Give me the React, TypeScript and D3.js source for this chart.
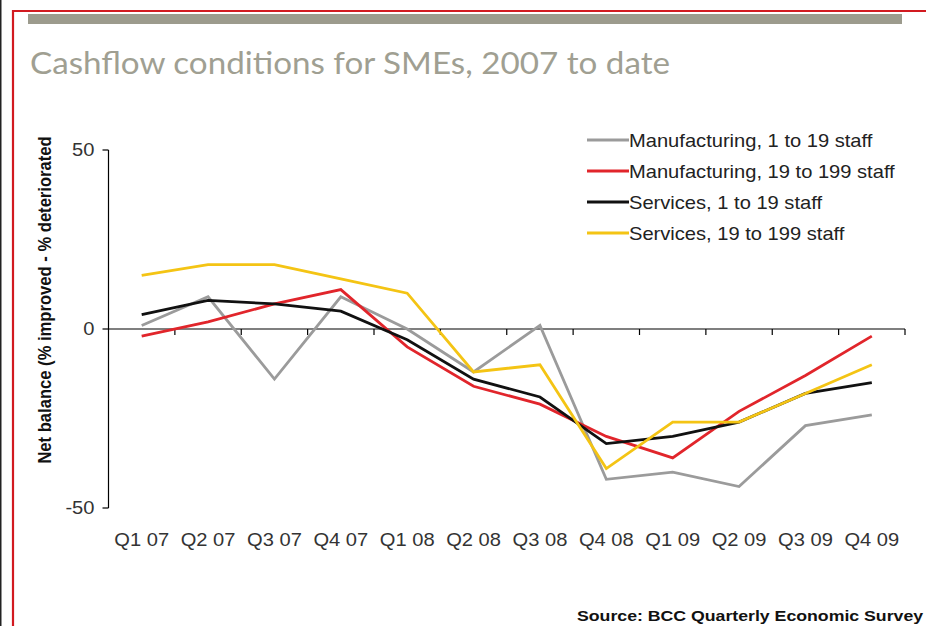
import * as d3 from 'd3'

const quarters = ['Q1 07', 'Q2 07', 'Q3 07', 'Q4 07', 'Q1 08', 'Q2 08', 'Q3 08', 'Q4 08', 'Q1 09', 'Q2 09', 'Q3 09', 'Q4 09']
const manufSmall = [1, 9, -14, 9, 0, -12, 1, -42, -40, -44, -27, -24]
const manufLarge = [-2, 2, 7, 11, -5, -16, -21, -30, -36, -23, -13, -2]
const servSmall = [4, 8, 7, 5, -3, -14, -19, -32, -30, -26, -18, -15]
const servLarge = [15, 18, 18, 14, 10, -12, -10, -39, -26, -26, -18, -10]
const yTicks = [50, 0, -50]

const series = [
  { name: 'Manufacturing, 1 to 19 staff', values: manufSmall, color: '#9b9b9b' },
  { name: 'Manufacturing, 19 to 199 staff', values: manufLarge, color: '#e1252b' },
  { name: 'Services, 1 to 19 staff', values: servSmall, color: '#111111' },
  { name: 'Services, 19 to 199 staff', values: servLarge, color: '#f4c414' },
]

const W = 926
const H = 626
const SX = 1.15 // the source image is stretched a bit horizontally
const plot = { left: 108.5, right: 905, top: 150, bottom: 508 }
const font = '"Liberation Sans", Arial, sans-serif'

export default function App() {
  const x = d3.scaleBand<string>().domain(quarters).range([plot.left, plot.right])
  const y = d3.scaleLinear().domain([-50, 50]).range([plot.bottom, plot.top])
  const cx = (q: string) => (x(q) ?? 0) + x.bandwidth() / 2
  const y0 = y(0)

  const line = d3
    .line<number>()
    .x((_, i) => cx(quarters[i]))
    .y((d) => y(d))

  const boundaries = quarters.map((q) => (x(q) ?? 0) + x.bandwidth())
  const legendX = 587
  const legendY = 140
  const legendStep = 31

  return (
    <svg width={W} height={H} style={{ position: 'absolute', left: 0, top: 0, background: '#fff' }}>
      {/* page frame */}
      <line x1={0.75} y1={0} x2={0.75} y2={H} stroke="#222" strokeWidth={1.5} />
      <path d={`M13,${H} V11 H${W}`} fill="none" stroke="#d21a20" strokeWidth={2.2} />
      <rect x={28} y={14} width={874} height={10} fill="#9c9b8d" />

      <text x={30} y={73.5} fontFamily='Lato, "Open Sans", sans-serif' fontSize={30} fill="#a09f92"
        textLength={640} lengthAdjust="spacingAndGlyphs">
        Cashflow conditions for SMEs, 2007 to date
      </text>

      {/* y axis */}
      <line x1={plot.left} x2={plot.left} y1={y(50)} y2={y(-50)} stroke="#000" strokeWidth={1.2} />
      {yTicks.map((t) => (
        <g key={t}>
          <line x1={plot.left - 6} x2={plot.left} y1={y(t)} y2={y(t)} stroke="#000" strokeWidth={1.2} />
          <text transform={`translate(${plot.left - 14},${y(t) + 6.3}) scale(${SX},1)`} textAnchor="end"
            fontFamily={font} fontSize={17.5} fill="#333">
            {t}
          </text>
        </g>
      ))}

      {/* x axis at zero */}
      <line x1={plot.left} x2={plot.right} y1={y0} y2={y0} stroke="#000" strokeWidth={1.2} />
      {boundaries.map((b, i) => (
        <line key={i} x1={b} x2={b} y1={y0} y2={y0 + 6} stroke="#000" strokeWidth={1.2} />
      ))}
      {quarters.map((q) => (
        <text key={q} transform={`translate(${cx(q)},${546}) scale(${SX},1)`} textAnchor="middle"
          fontFamily={font} fontSize={17.5} fill="#333">
          {q}
        </text>
      ))}

      <text transform={`translate(51,${(135 + 465) / 2}) scale(${SX},1) rotate(-90)`} textAnchor="middle"
        fontFamily={font} fontWeight="bold" fontSize={16.6} fill="#111">
        Net balance (% improved - % deteriorated
      </text>

      {/* series */}
      {series.map((s) => (
        <path key={s.name} d={line(s.values) ?? ''} fill="none" stroke={s.color} strokeWidth={2.8}
          strokeLinejoin="miter" />
      ))}

      {/* legend */}
      {series.map((s, i) => (
        <g key={s.name}>
          <line x1={legendX} x2={legendX + 42} y1={legendY + i * legendStep} y2={legendY + i * legendStep}
            stroke={s.color} strokeWidth={3} />
          <text transform={`translate(${legendX + 42},${legendY + i * legendStep + 6.5}) scale(${SX},1)`}
            fontFamily={font} fontSize={17.5} fill="#222">
            {s.name}
          </text>
        </g>
      ))}

      <text transform={`translate(577,${621}) scale(${SX},1)`} fontFamily={font} fontWeight="bold"
        fontSize={15.4} fill="#111">
        Source: BCC Quarterly Economic Survey
      </text>
    </svg>
  )
}
